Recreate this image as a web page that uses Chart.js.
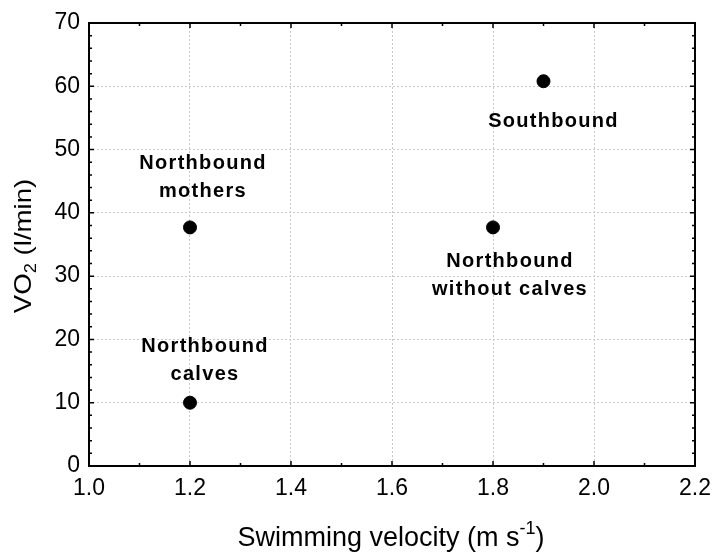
<!DOCTYPE html>
<html>
<head>
<meta charset="utf-8">
<script src="https://cdn.jsdelivr.net/npm/chart.js@4/dist/chart.umd.min.js"></script>
<style>
  html, body { margin: 0; padding: 0; background: #fff; }
  #wrap { width: 713px; height: 552px; }
</style>
</head>
<body>
<div id="wrap"><canvas id="c" width="713" height="552"></canvas></div>
<script>
// values
const groups = ['Northbound mothers', 'Northbound calves', 'Northbound without calves', 'Southbound'];
const velocity = [1.2, 1.2, 1.8, 1.9];
const vo2 = [37.7, 10.0, 37.7, 60.8];
const xTicks = [1.0, 1.2, 1.4, 1.6, 1.8, 2.0, 2.2];
const yTicks = [0, 10, 20, 30, 40, 50, 60, 70];

// label lines and where they sit relative to the point (px)
const labelLines = [['Northbound', 'mothers'], ['Northbound', 'calves'], ['Northbound', 'without calves'], ['Southbound']];
const labelOffset = [[13, -58], [15, -51], [17, 40], [10, 46]];

const FONT = '"Liberation Sans", Arial, sans-serif';

const frame = {
  id: 'frame',
  afterDraw(chart) {
    const ctx = chart.ctx;
    const a = chart.chartArea;
    const xs = chart.scales.x, ys = chart.scales.y;
    ctx.save();
    ctx.strokeStyle = '#000';
    ctx.lineWidth = 2;
    ctx.strokeRect(a.left, a.top, a.right - a.left, a.bottom - a.top);
    ctx.lineWidth = 1.5;
    // x ticks every 0.1, inside, bottom and top
    for (let i = 0; i <= 12; i++) {
      const px = xs.getPixelForValue(1.0 + i * 0.1);
      const len = i % 2 === 0 ? 5 : 3;
      ctx.beginPath();
      ctx.moveTo(px, a.bottom); ctx.lineTo(px, a.bottom - len);
      ctx.moveTo(px, a.top); ctx.lineTo(px, a.top + len);
      ctx.stroke();
    }
    // y ticks every 2, inside, left and right
    for (let i = 0; i <= 35; i++) {
      const py = ys.getPixelForValue(i * 2);
      const len = i % 5 === 0 ? 5 : 3;
      ctx.beginPath();
      ctx.moveTo(a.left, py); ctx.lineTo(a.left + len, py);
      ctx.moveTo(a.right, py); ctx.lineTo(a.right - len, py);
      ctx.stroke();
    }

    // point labels
    ctx.fillStyle = '#000';
    ctx.font = 'bold 20px ' + FONT;
    ctx.letterSpacing = '1.3px';
    ctx.textAlign = 'center';
    ctx.textBaseline = 'alphabetic';
    for (let k = 0; k < groups.length; k++) {
      const px = xs.getPixelForValue(velocity[k]);
      const py = ys.getPixelForValue(vo2[k]);
      labelLines[k].forEach((t, j) => {
        ctx.fillText(t, px + labelOffset[k][0], py + labelOffset[k][1] + j * 28);
      });
    }
    ctx.letterSpacing = '0px';

    // x axis title with superscript
    ctx.textAlign = 'left';
    const main = 'Swimming velocity (m s';
    const sup = '-1';
    const tail = ')';
    ctx.font = '27px ' + FONT;
    const wMain = ctx.measureText(main).width;
    const wTail = ctx.measureText(tail).width;
    ctx.font = '18px ' + FONT;
    const wSup = ctx.measureText(sup).width;
    const total = wMain + wSup + wTail;
    const x0 = 391 - total / 2;
    const by = 546;
    ctx.font = '27px ' + FONT;
    ctx.fillText(main, x0, by);
    ctx.font = '18px ' + FONT;
    ctx.fillText(sup, x0 + wMain, by - 12);
    ctx.font = '27px ' + FONT;
    ctx.fillText(tail, x0 + wMain + wSup, by);

    // y axis title with subscript
    ctx.save();
    ctx.translate(31, 246);
    ctx.rotate(-Math.PI / 2);
    ctx.scale(1.15, 1);
    const p1 = 'VO', p2 = '2', p3 = ' (l/min)';
    ctx.font = '24px ' + FONT;
    const w1 = ctx.measureText(p1).width, w3 = ctx.measureText(p3).width;
    ctx.font = '16px ' + FONT;
    const w2 = ctx.measureText(p2).width;
    const s = -(w1 + w2 + w3) / 2;
    ctx.font = '24px ' + FONT;
    ctx.fillText(p1, s, 0);
    ctx.font = '16px ' + FONT;
    ctx.fillText(p2, s + w1, 5);
    ctx.font = '24px ' + FONT;
    ctx.fillText(p3, s + w1 + w2, 0);
    ctx.restore();

    ctx.restore();
  }
};

new Chart(document.getElementById('c'), {
  type: 'scatter',
  data: {
    datasets: [{
      label: 'VO2',
      data: velocity.map((v, i) => ({ x: v, y: vo2[i] })),
      backgroundColor: '#000',
      borderColor: '#000',
      pointRadius: 6.5,
      pointHoverRadius: 6.5,
    }],
  },
  options: {
    responsive: false,
    animation: false,
    layout: { padding: { left: 0, right: 18, top: 23, bottom: 0 } },
    plugins: { legend: { display: false }, tooltip: { enabled: false } },
    scales: {
      x: {
        type: 'linear',
        min: 1.0, max: 2.2,
        afterBuildTicks: (s) => { s.ticks = xTicks.map(v => ({ value: v })); },
        afterFit: (s) => { s.height = 86; s.paddingLeft = 0; s.paddingRight = 0; },
        ticks: {
          callback: (v) => v.toFixed(1),
          color: '#000',
          font: { family: FONT, size: 23 },
          padding: 9,
          maxRotation: 0,
        },
        grid: { color: '#c8c8c8', lineWidth: 1, drawTicks: false },
        border: { display: false, dash: [2, 2] },
      },
      y: {
        type: 'linear',
        min: 0, max: 70,
        afterBuildTicks: (s) => { s.ticks = yTicks.map(v => ({ value: v })); },
        afterFit: (s) => { s.width = 89; s.paddingTop = 0; s.paddingBottom = 0; },
        ticks: {
          color: '#000',
          font: { family: FONT, size: 23 },
          padding: 9,
        },
        grid: { color: '#c8c8c8', lineWidth: 1, drawTicks: false },
        border: { display: false, dash: [2, 2] },
      },
    },
  },
  plugins: [frame],
});
</script>
</body>
</html>
